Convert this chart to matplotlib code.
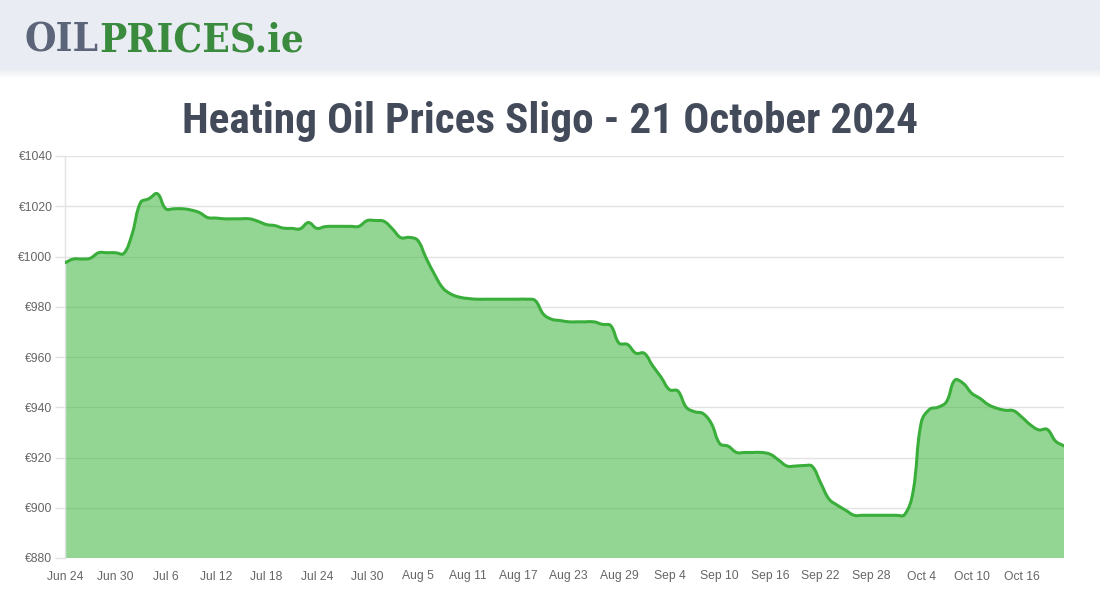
import numpy as np
import pandas as pd
import matplotlib
matplotlib.use("Agg")
import matplotlib.pyplot as plt
from matplotlib.path import Path
from matplotlib.patches import PathPatch, Rectangle

# ---------------- data ----------------
start_date = "2024-06-24"
prices = [
    997.5, 999.0, 999.0, 999.3, 1001.5, 1001.5, 1001.5, 1001.2, 1009.0, 1021.5,
    1023.0, 1025.0, 1019.0, 1019.0, 1019.0, 1018.5, 1017.5, 1015.5, 1015.3, 1015.0,
    1015.0, 1015.0, 1015.0, 1014.0, 1012.7, 1012.3, 1011.3, 1011.2, 1011.0, 1013.5,
    1011.2, 1011.9, 1012.0, 1012.0, 1012.0, 1012.0, 1014.3, 1014.3, 1014.0, 1011.0,
    1007.5, 1007.6, 1006.5, 999.5, 993.0, 987.5, 985.0, 983.8, 983.3, 983.0,
    983.0, 983.0, 983.0, 983.0, 983.0, 983.0, 982.5, 977.0, 975.0, 974.5,
    974.0, 974.0, 974.0, 974.0, 973.0, 972.5, 965.5, 965.0, 961.5, 961.5,
    956.5, 952.0, 947.0, 946.5, 940.0, 938.2, 937.5, 933.5, 925.5, 924.5,
    922.0, 922.0, 922.0, 922.0, 921.3, 919.0, 916.6, 916.6, 916.8, 916.5,
    910.0, 903.5, 901.0, 899.0, 897.0, 897.0, 897.0, 897.0, 897.0, 897.0,
    897.2, 906.0, 934.0, 939.2, 940.0, 942.2, 950.8, 949.5, 945.6, 943.5,
    941.0, 939.6, 938.8, 938.6, 936.0, 933.0, 931.0, 931.2, 926.5, 924.6,
]
y_ticks = [880, 900, 920, 940, 960, 980, 1000, 1020, 1040]
label_step = 6
title_text = "Heating Oil Prices Sligo - 21 October 2024"

dates = pd.date_range(start_date, periods=len(prices), freq="D")

# ---------------- figure ----------------
W, H = 1100, 600
fig = plt.figure(figsize=(W / 100, H / 100), dpi=100)
fig.patch.set_facecolor("white")


def fit_width(txt, target_px):
    fig.canvas.draw()
    w = txt.get_window_extent().width
    txt.set_fontsize(txt.get_fontsize() * target_px / w)


# header band + shadow
fig.patches.append(Rectangle((0, 1 - 70 / H), 1, 70 / H, transform=fig.transFigure,
                             facecolor="#e9ecf3", edgecolor="none", zorder=0))
for i in range(8):
    fig.patches.append(Rectangle((0, 1 - (71 + i) / H), 1, 1 / H, transform=fig.transFigure,
                                 facecolor="#c8ccd6", alpha=0.3 * (1 - i / 8),
                                 edgecolor="none", zorder=0))

# logo
logo_y = 1 - 51 / H
logo_font = dict(fontweight="heavy", family=["DejaVu Serif"], fontstretch="condensed",
                 va="baseline", ha="left")
t1 = fig.text(25 / W, logo_y, "OIL", fontsize=27, color="#5b6478", **logo_font)
t2 = fig.text(25 / W, logo_y, "PRICES.ie", fontsize=27, color="#3a8b3e", **logo_font)
fig.canvas.draw()
w1 = t1.get_window_extent().width
w2 = t2.get_window_extent().width
scale = 279 / (w1 + w2)
t1.set_fontsize(27 * scale)
t2.set_fontsize(27 * scale)
fig.canvas.draw()
t2.set_x(t1.get_window_extent().x1 / W)

# title
title = fig.text(0.5, 1 - 133 / H, title_text, ha="center", va="baseline", fontsize=40,
                 color="#434b5b", fontweight="semibold", fontstretch="condensed",
                 family=["Roboto Condensed", "Oswald", "DejaVu Sans"])
fit_width(title, 734)

# axes
ax = fig.add_axes([65 / W, 42 / H, 999 / W, 402 / H])
n = len(prices)
xs = np.arange(n, dtype=float)
ys = np.array(prices, dtype=float)
ax.set_xlim(0, n - 1)
ax.set_ylim(y_ticks[0], y_ticks[-1])

# chart.js style spline (tension 0.4) computed in pixel space
px_x = 999 / (n - 1)
px_y = 402 / (y_ticks[-1] - y_ticks[0])
tension = 0.4
cp_prev = np.zeros((n, 2))
cp_next = np.zeros((n, 2))


def dist(a, b):
    return np.hypot((a[0] - b[0]) * px_x, (a[1] - b[1]) * px_y)


for i in range(n):
    p0 = np.array([xs[max(i - 1, 0)], ys[max(i - 1, 0)]])
    p1 = np.array([xs[i], ys[i]])
    p2 = np.array([xs[min(i + 1, n - 1)], ys[min(i + 1, n - 1)]])
    d01, d12 = dist(p0, p1), dist(p1, p2)
    tot = d01 + d12
    s01 = d01 / tot if tot else 0
    s12 = d12 / tot if tot else 0
    cp_prev[i] = p1 - tension * s01 * (p2 - p0)
    cp_next[i] = p1 + tension * s12 * (p2 - p0)
cp_prev[:, 1] = np.clip(cp_prev[:, 1], y_ticks[0], y_ticks[-1])
cp_next[:, 1] = np.clip(cp_next[:, 1], y_ticks[0], y_ticks[-1])

verts = [(xs[0], ys[0])]
codes = [Path.MOVETO]
for i in range(n - 1):
    verts += [tuple(cp_next[i]), tuple(cp_prev[i + 1]), (xs[i + 1], ys[i + 1])]
    codes += [Path.CURVE4] * 3
line_path = Path(verts, codes)
fill_path = Path(verts + [(xs[-1], y_ticks[0]), (xs[0], y_ticks[0]), (xs[0], ys[0])],
                 codes + [Path.LINETO, Path.LINETO, Path.CLOSEPOLY])

ax.add_patch(PathPatch(fill_path, facecolor=(0.2, 0.7, 0.2, 0.53), edgecolor="none", zorder=2))
ax.add_patch(PathPatch(line_path, facecolor="none", edgecolor="#3aae3a", lw=2.2,
                       capstyle="round", joinstyle="round", zorder=3))

# grid and axes styling
ax.set_yticks(y_ticks)
ax.set_yticklabels([f"€{v}" for v in y_ticks])
ax.grid(axis="y", color="#e2e2e2", lw=1)
ax.set_axisbelow(True)
for s in ["top", "right", "bottom"]:
    ax.spines[s].set_visible(False)
ax.spines["left"].set_color("#e2e2e2")
ax.spines["left"].set_linewidth(1)
ax.tick_params(axis="y", length=7, width=1, color="#e2e2e2", pad=2,
               labelsize=8.7, labelcolor="#666666")
ax.set_xticks(xs[::label_step])
ax.set_xticklabels([f"{d:%b} {d.day}" for d in dates[::label_step]])
ax.tick_params(axis="x", length=0, pad=9, labelsize=8.7, labelcolor="#666666")
for lab in ax.get_xticklabels() + ax.get_yticklabels():
    lab.set_family(["Liberation Sans", "DejaVu Sans"])

fig.savefig("out.png", dpi=100)
